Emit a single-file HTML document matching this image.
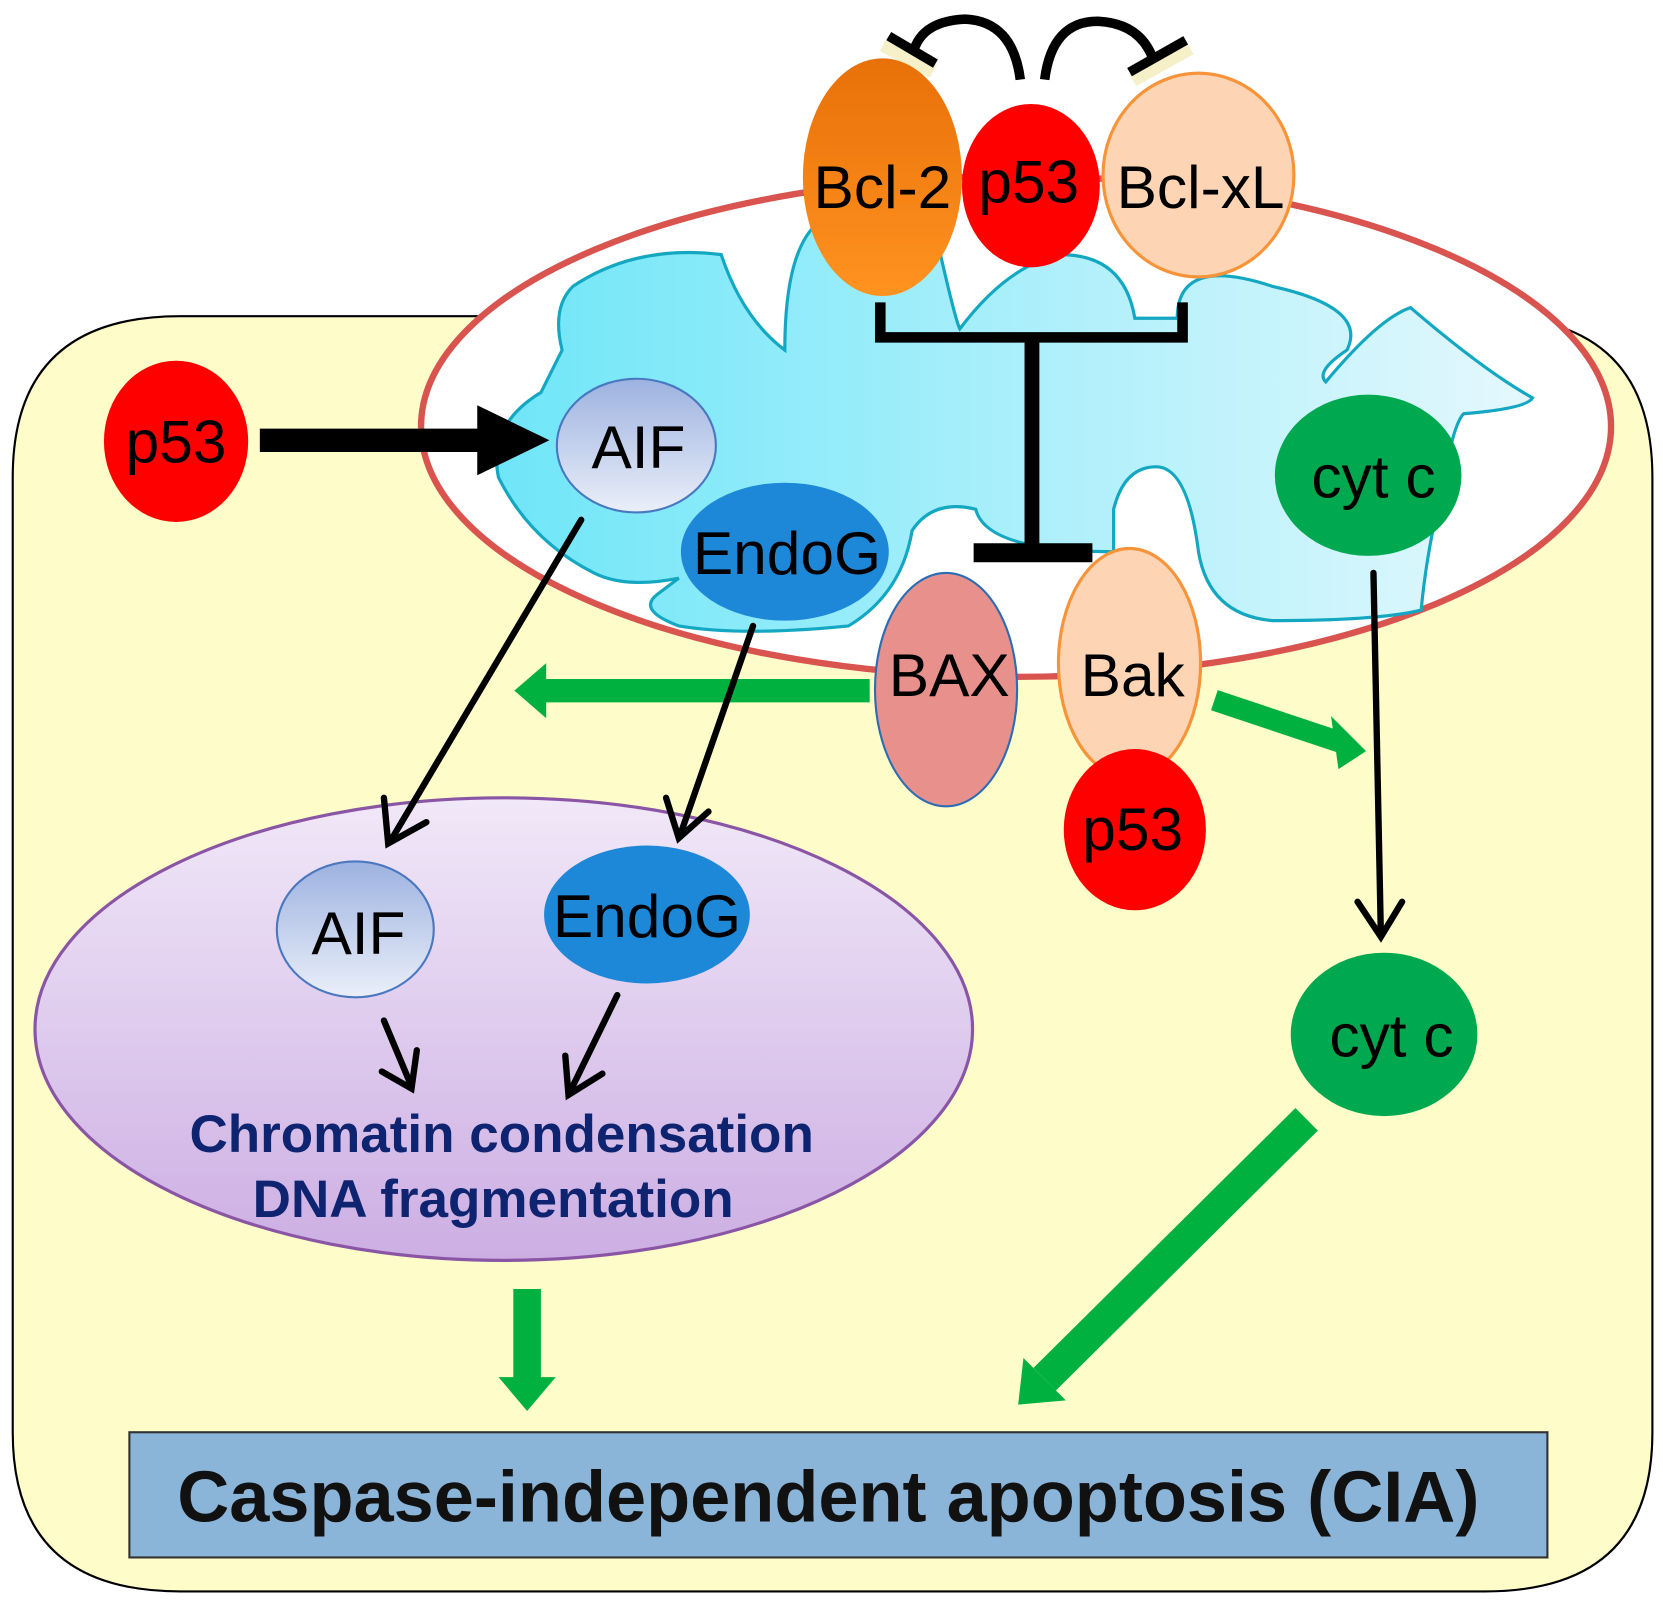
<!DOCTYPE html>
<html><head><meta charset="utf-8"><style>html,body{margin:0;padding:0;background:#fff}svg{display:block}</style></head>
<body>
<svg width="1663" height="1602" viewBox="0 0 1568 1510" preserveAspectRatio="none" xmlns="http://www.w3.org/2000/svg" font-family="Liberation Sans, sans-serif">
<defs>
<linearGradient id="cyan" x1="0" x2="1" y1="0" y2="0"><stop offset="0" stop-color="#6fe6f8"/><stop offset="1" stop-color="#e4f8fd"/></linearGradient>
<linearGradient id="aif" x1="0" x2="0" y1="0" y2="1"><stop offset="0" stop-color="#9db2e0"/><stop offset="1" stop-color="#eaeff9"/></linearGradient>
<linearGradient id="org" x1="0" x2="0" y1="0" y2="1"><stop offset="0" stop-color="#e87008"/><stop offset="1" stop-color="#ff9320"/></linearGradient>
<linearGradient id="nuc" x1="0" x2="0" y1="0" y2="1"><stop offset="0" stop-color="#f1e8f8"/><stop offset="1" stop-color="#ccaee3"/></linearGradient>
</defs>
<path d="M170,298 H1400 Q1558,298 1558,450 V1350 Q1558,1500 1400,1500 H170 Q12,1500 12,1350 V450 Q12,298 170,298 Z" fill="#fefcc8" stroke="#000" stroke-width="2"/>
<ellipse cx="958" cy="402" rx="561" ry="236" fill="#fff" stroke="#d9534f" stroke-width="6"/>
<path d="M540,270 Q600,230 680,240 Q700,300 740,330 Q740,200 800,200 L880,210 Q900,300 905,310 Q950,250 1000,240 Q1060,240 1070,300 L1110,300 Q1110,240 1200,270 Q1290,290 1270,330 Q1240,350 1250,360 Q1300,300 1330,290 Q1400,350 1445,375 Q1440,385 1380,390 Q1370,400 1360,460 Q1345,520 1340,575 Q1300,585 1200,585 Q1140,580 1130,520 Q1120,440 1090,440 Q1060,440 1050,480 L1050,520 Q930,520 920,480 Q880,470 860,500 Q850,560 800,590 Q700,600 640,590 Q600,575 620,560 L640,545 Q590,555 560,540 Q500,510 470,450 Q460,400 510,370 Q520,350 530,330 Q520,290 540,270 Z" fill="url(#cyan)" stroke="#14a7c2" stroke-width="3"/>
<path d="M962,75 Q955,20 910,18 Q865,20 860,55" fill="none" stroke="#000" stroke-width="9"/>
<line x1="833" y1="42" x2="880" y2="67" stroke="#f5f0c8" stroke-width="14"/>
<line x1="838" y1="34" x2="882" y2="60" stroke="#000" stroke-width="9"/>
<path d="M985,75 Q992,20 1035,20 Q1080,22 1090,65" fill="none" stroke="#000" stroke-width="9"/>
<line x1="1068" y1="75" x2="1122" y2="45" stroke="#f5f0c8" stroke-width="14"/>
<line x1="1065" y1="68" x2="1118" y2="38" stroke="#000" stroke-width="9"/>
<path d="M830,285 V318 H1115 V285" fill="none" stroke="#000" stroke-width="10"/>
<line x1="973" y1="318" x2="973" y2="520" stroke="#000" stroke-width="14"/>
<line x1="918" y1="521" x2="1030" y2="521" stroke="#000" stroke-width="18"/>
<ellipse cx="475" cy="970" rx="442" ry="218" fill="url(#nuc)" stroke="#8a55a5" stroke-width="3"/>
<rect x="122" y="1350" width="1337" height="118" fill="#8ab4d8" stroke="#333" stroke-width="2"/>
<text x="781" y="1434" font-size="68" font-weight="bold" text-anchor="middle" fill="#111">Caspase-independent apoptosis (CIA)</text>
<g fill="#00b140" stroke="#00b140">
<line x1="820" y1="651" x2="510" y2="651" stroke-width="22"/><polygon points="485,651 515,625 515,677" stroke="none"/>
<line x1="1145" y1="660" x2="1265" y2="700" stroke-width="20"/><polygon points="1288,708 1255,675 1262,725" stroke="none"/>
<line x1="497" y1="1215" x2="497" y2="1305" stroke-width="26"/><polygon points="470,1298 524,1298 497,1330" stroke="none"/>
<line x1="1232" y1="1055" x2="985" y2="1300" stroke-width="30"/><polygon points="960,1324 965,1280 1005,1320" stroke="none"/>
</g>
<line x1="245" y1="415" x2="455" y2="415" stroke="#000" stroke-width="22"/>
<polygon points="450,382 450,448 518,415" fill="#000"/>
<g stroke="#000" stroke-width="6" fill="none" stroke-linecap="round">
<line x1="548" y1="490" x2="368" y2="793"/><polyline points="362,752 366,795 402,775"/>
<line x1="710" y1="590" x2="641" y2="788"/><polyline points="628,752 640,790 668,765"/>
<line x1="1295" y1="540" x2="1302" y2="882"/><polyline points="1280,850 1302,883 1322,850"/>
<line x1="362" y1="962" x2="388" y2="1024"/><polyline points="360,1010 388,1026 393,990"/>
<line x1="582" y1="938" x2="537" y2="1030"/><polyline points="533,995 536,1032 568,1012"/>
</g>
<g font-size="57" text-anchor="middle">
<ellipse cx="166" cy="416" rx="68" ry="76" fill="#f00"/><text x="166" y="436">p53</text>
<ellipse cx="600" cy="420" rx="75" ry="63" fill="url(#aif)" stroke="#4a78c0" stroke-width="2"/><text x="602" y="441">AIF</text>
<ellipse cx="740" cy="520" rx="98" ry="65" fill="#1e88d8"/><text x="742" y="541">EndoG</text>
<ellipse cx="832" cy="167" rx="75" ry="112" fill="url(#org)"/><text x="832" y="196">Bcl-2</text>
<ellipse cx="972" cy="175" rx="65" ry="77" fill="#f00"/><text x="970" y="191">p53</text>
<ellipse cx="1130" cy="165" rx="90" ry="96" fill="#fdd5b4" stroke="#f7943a" stroke-width="3"/><text x="1132" y="196">Bcl-xL</text>
<ellipse cx="1290" cy="448" rx="88" ry="76" fill="#00a94f"/><text x="1295" y="469">cyt c</text>
<ellipse cx="892" cy="650" rx="67" ry="110" fill="#e8908c" stroke="#2a6db5" stroke-width="2"/><text x="895" y="656">BAX</text>
<ellipse cx="1065" cy="625" rx="67" ry="108" fill="#fdd5b4" stroke="#f7943a" stroke-width="3"/><text x="1068" y="656">Bak</text>
<ellipse cx="1070" cy="782" rx="67" ry="76" fill="#f00"/><text x="1068" y="801">p53</text>
<ellipse cx="335" cy="876" rx="74" ry="64" fill="url(#aif)" stroke="#4a78c0" stroke-width="2"/><text x="338" y="899">AIF</text>
<ellipse cx="610" cy="862" rx="97" ry="65" fill="#1e88d8"/><text x="610" y="883">EndoG</text>
<ellipse cx="1305" cy="975" rx="88" ry="77" fill="#00a94f"/><text x="1312" y="996">cyt c</text>
</g>
<g font-size="50" font-weight="bold" text-anchor="middle" fill="#0f2470">
<text x="473" y="1086">Chromatin condensation</text>
<text x="465" y="1147">DNA fragmentation</text>
</g>
</svg>
</body></html>
